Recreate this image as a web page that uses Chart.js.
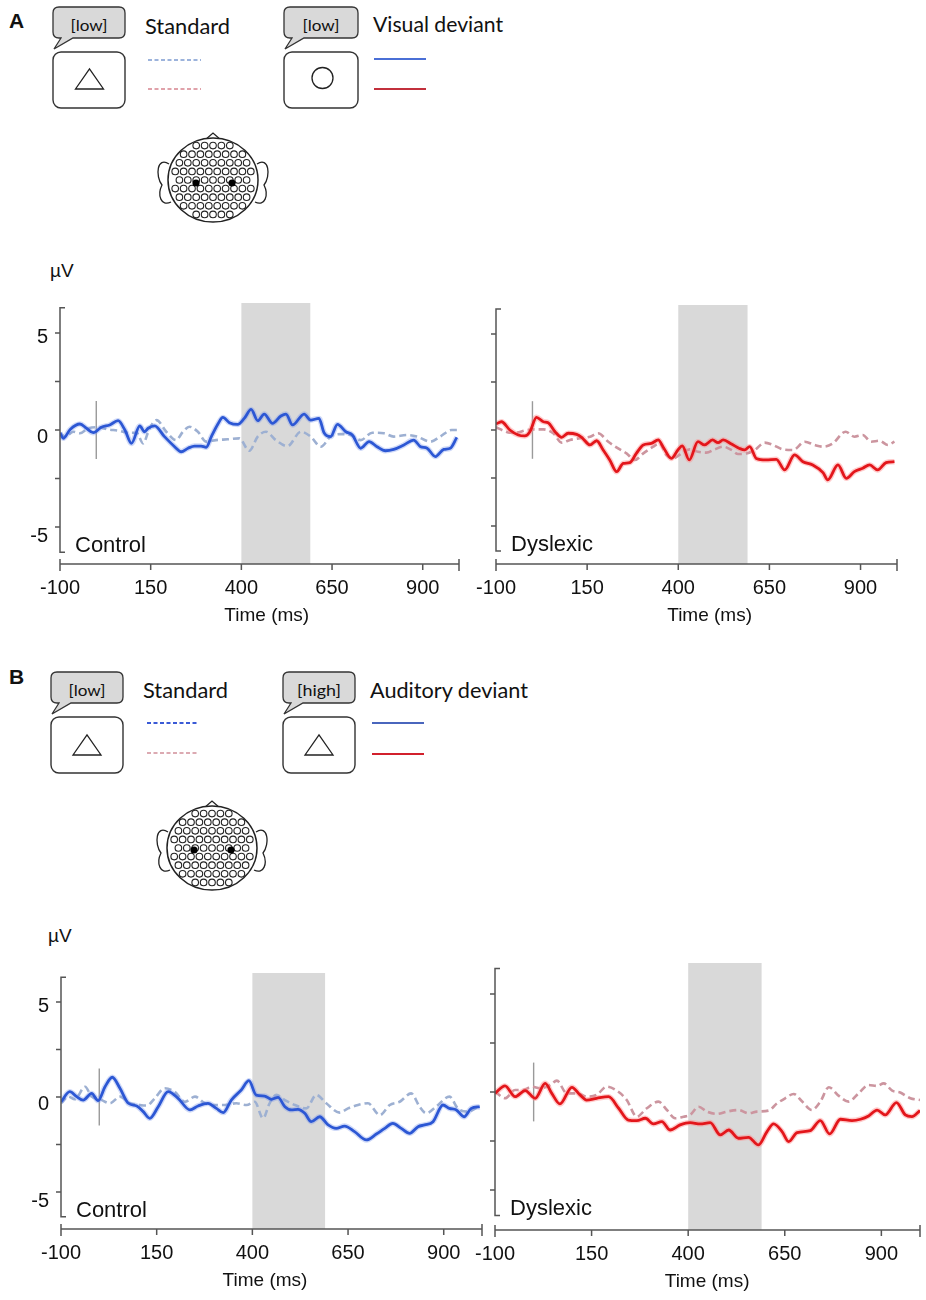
<!DOCTYPE html>
<html>
<head>
<meta charset="utf-8">
<title>ERP waveforms</title>
<script src="https://cdn.jsdelivr.net/npm/chart.js@4.4.1/dist/chart.umd.min.js"></script>
<style>
  body { margin: 0; background: #fff; }
  #page { position: relative; width: 926px; height: 1300px; overflow: hidden; }
  #page canvas { position: absolute; }
  #deco { position: absolute; left: 0; top: 0; }
  #deco text { font-family: Lato, "Open Sans", sans-serif; fill: #111; }
</style>
</head>
<body>
<div id="page">
  <svg id="deco" width="926" height="1300"></svg>
  <canvas id="aCtrl" width="470" height="385" style="left:0;top:255px"></canvas>
  <canvas id="aDys" width="456" height="385" style="left:470px;top:255px"></canvas>
  <canvas id="bCtrl" width="490" height="380" style="left:0;top:920px"></canvas>
  <canvas id="bDys" width="456" height="380" style="left:470px;top:920px"></canvas>
</div>
<script>
// axes
const xTicks = [-100, 150, 400, 650, 900];
const yTicks = [-5, -2.5, 0, 2.5, 5];
const yTickLabels = ["-5", "", "0", "", "5"];
const yAxisEnds = [-6.3, 6.3];
const timeRange = [-100, 1000];
const onsetBar = [1.5, -1.5];
const windowA = [400, 590];
const windowB = [400, 590];

// A, control: visual deviant (solid) and standard (dashed)
const aCtrlDevT = [-100,-91,-72,-45,-27,-8,14,37,60,79,97,120,133,143,161,188,216,234,253,271,289,303,317,335,349,367,390,408,427,445,463,486,509,523,541,573,591,614,628,646,665,688,706,729,752,774,797,820,848,875,894,912,935,958,976,994];
const aCtrlDevV = [-0.15,-0.43,0.03,0.31,0.09,-0.14,0.14,0.26,0.48,0,-0.69,0.21,-0.09,0.09,0.21,-0.34,-0.86,-1.12,-0.94,-0.83,-0.83,-0.89,-0.35,0.3,0.65,0.38,0.29,0.6,1.06,0.48,0.82,0.34,0.72,0.82,0.26,0.82,0.51,0.6,-0.14,-0.34,0.29,-0.09,-0.26,-0.94,-0.6,-0.86,-1.07,-1.0,-0.77,-0.52,-0.86,-0.94,-1.37,-1.0,-0.94,-0.38];
const aCtrlStdT = [-100,-86,-63,-45,-22,5,33,60,88,111,129,147,166,193,220,239,257,280,303,330,362,394,422,445,468,495,527,564,591,619,646,674,701,729,761,793,820,857,884,921,948,980,1000];
const aCtrlStdV = [-0.14,-0.34,-0.09,-0.17,0.09,0.14,0.03,-0.03,-0.14,-0.14,-0.69,0.09,0.51,-0.09,-0.52,-0.09,0.17,-0.09,-0.6,-0.52,-0.48,-0.43,-1.07,-0.34,-0.09,-0.52,-0.83,-0.09,-0.34,-0.86,-0.34,-0.21,-0.26,-0.52,-0.14,-0.17,-0.34,-0.26,-0.34,-0.6,-0.34,0,0];

// A, dyslexic
const aDysDevT = [-100,-85,-62,-39,-21,-7,11,30,43,62,80,98,121,135,158,176,194,212,231,249,267,285,304,326,345,358,381,399,411,430,454,472,494,509,523,546,568,582,596,614,641,669,692,719,742,769,797,810,838,861,883,906,925,947,970,993];
const aDysDevV = [0.31,0.43,0,-0.26,-0.31,-0.09,0.66,0.43,0.38,-0.09,-0.38,-0.17,-0.23,-0.38,-0.78,-0.56,-1.04,-1.56,-2.17,-1.74,-1.7,-1.22,-0.78,-0.7,-0.52,-0.87,-1.48,-1.04,-0.83,-1.56,-0.61,-0.78,-0.52,-0.66,-0.52,-0.73,-0.96,-1.04,-0.87,-1.48,-1.56,-1.53,-2.08,-1.3,-1.65,-1.82,-2.22,-2.6,-1.82,-2.52,-2.17,-1.99,-1.82,-2.08,-1.7,-1.65];
const aDysStdT = [-100,-80,-62,-43,-21,2,30,57,80,103,130,158,180,208,235,258,281,304,331,349,367,386,409,431,454,477,500,523,546,564,587,610,637,660,687,715,747,774,797,824,859,883,906,929,952,975,993];
const aDysStdV = [0.14,-0.03,-0.14,-0.14,-0.03,0.03,0.03,-0.17,-0.66,-0.52,-0.43,-0.35,-0.17,-0.61,-0.96,-1.22,-1.56,-1.22,-0.87,-0.7,-1.3,-1.48,-1.22,-1.01,-1.13,-1.18,-1.01,-0.87,-1.04,-1.25,-1.22,-1.04,-0.66,-0.78,-1.01,-1.04,-0.61,-0.78,-0.87,-0.7,-0.09,-0.35,-0.26,-0.61,-0.56,-0.78,-0.61];

// B, control: auditory deviant (solid) and standard (dashed)
const bCtrlDevT = [-100,-77,-59,-42,-20,-3,15,34,54,76,98,115,132,154,180,206,237,258,284,306,324,345,371,391,410,432,450,467,485,502,519,537,554,576,598,619,641,667,698,724,746,767,789,811,833,850,872,898,915,933,953,972,994];
const bCtrlDevV = [-0.25,0.28,0.02,-0.16,0.19,-0.19,0.54,1.04,0.46,-0.33,-0.47,-0.77,-1.12,-0.51,0.28,-0.07,-0.68,-0.47,-0.33,-0.6,-0.82,-0.16,0.37,0.86,0.1,0.05,-0.12,-0.02,-0.51,-0.68,-0.65,-0.86,-1.3,-1.04,-1.47,-1.65,-1.53,-1.82,-2.26,-1.95,-1.65,-1.39,-1.65,-1.91,-1.56,-1.47,-1.3,-0.42,-0.6,-0.68,-1.04,-0.6,-0.51];
const bCtrlStdT = [-100,-81,-64,-37,-20,2,28,54,80,106,124,145,171,197,224,250,276,302,328,358,385,406,428,445,463,485,511,541,567,593,628,650,676,702,733,759,785,815,837,854,880,915,937,963,994];
const bCtrlStdV = [-0.33,0.02,-0.12,0.54,0.02,-0.12,-0.33,0.02,-0.33,-0.42,-0.45,-0.07,0.46,0.28,-0.25,0.02,-0.33,-0.42,-0.42,-0.33,-0.42,-0.25,-1.12,-0.33,0.11,-0.16,-0.42,-0.6,0.11,-0.33,-0.82,-0.6,-0.42,-0.33,-0.95,-0.42,-0.25,0.19,-0.51,-0.86,-0.51,0.02,-0.6,-0.77,-0.47];

// B, dyslexic
const bDysDevT = [-100,-74,-48,-22,4,30,47,68,99,120,137,163,194,220,245,267,289,310,332,353,379,405,431,457,483,505,530,556,582,604,621,643,660,682,716,742,766,794,824,846,867,889,910,939,962,979,1000];
const bDysDevV = [-0.07,0.31,-0.24,0.07,-0.32,0.44,-0.07,-0.61,0.24,-0.15,-0.41,-0.32,-0.24,-0.83,-1.43,-1.46,-1.34,-1.63,-1.51,-1.94,-1.68,-1.56,-1.63,-1.56,-2.19,-1.94,-2.36,-2.31,-2.7,-2.02,-1.63,-2.02,-2.53,-2.07,-1.97,-1.46,-2.14,-1.39,-1.46,-1.39,-1.22,-0.92,-1.17,-0.54,-1.17,-1.26,-0.95];
const bDysStdT = [-100,-74,-48,-27,-5,17,43,60,86,112,138,163,189,215,241,267,293,323,345,366,388,405,427,448,474,500,530,556,578,608,630,651,673,695,720,742,764,790,815,841,867,889,906,928,949,975,1000];
const bDysStdV = [0.02,-0.32,0.1,0.1,0.27,0.19,0.36,0.58,-0.07,-0.07,-0.24,-0.15,0.27,0.07,-0.41,-1.26,-0.83,-0.49,-0.92,-1.34,-1.26,-1.17,-0.75,-1.0,-1.12,-1.0,-0.92,-1.09,-1.0,-0.95,-0.58,-0.32,-0.1,-0.49,-0.92,-0.49,0.24,-0.2,-0.49,-0.07,0.36,0.31,0.44,0.07,-0.03,-0.32,-0.41];

const tickFont = '20px "Liberation Sans", Arial, sans-serif';

function pts(t, v) {
  return t.map((x, i) => ({ x: x, y: v[i] }));
}

// grey analysis window, detached axes and their labels
const erpAxes = {
  id: "erpAxes",
  beforeDatasetsDraw(chart, args, o) {
    const { ctx, chartArea: a, scales: { x } } = chart;
    const x0 = x.getPixelForValue(o.window[0]);
    const x1 = x.getPixelForValue(o.window[1]);
    ctx.save();
    ctx.fillStyle = "#d9d9d9";
    ctx.fillRect(x0, a.top, x1 - x0, a.bottom - a.top);
    ctx.restore();
  },
  afterDraw(chart, args, o) {
    const { ctx, chartArea: a, scales: { x, y } } = chart;
    const ax = a.left, ay = a.bottom;
    const yTop = y.getPixelForValue(yAxisEnds[1]);
    const yBot = y.getPixelForValue(yAxisEnds[0]);
    const xl = x.getPixelForValue(timeRange[0]);
    const xr = x.getPixelForValue(timeRange[1]);

    ctx.save();
    ctx.strokeStyle = "#555";
    ctx.lineWidth = 1.5;
    ctx.beginPath();
    ctx.moveTo(ax + 5, yTop);
    ctx.lineTo(ax, yTop);
    ctx.lineTo(ax, yBot);
    ctx.lineTo(ax + 5, yBot);
    yTicks.forEach(v => {
      const p = y.getPixelForValue(v);
      ctx.moveTo(ax - 5, p);
      ctx.lineTo(ax, p);
    });
    ctx.moveTo(xl, ay);
    ctx.lineTo(xr, ay);
    ctx.moveTo(xl, ay - 5);
    ctx.lineTo(xl, ay + 7);
    ctx.moveTo(xr, ay - 5);
    ctx.lineTo(xr, ay + 7);
    xTicks.forEach(v => {
      const p = x.getPixelForValue(v);
      ctx.moveTo(p, ay);
      ctx.lineTo(p, ay + 6);
    });
    ctx.stroke();

    ctx.fillStyle = "#111";
    ctx.font = tickFont;
    ctx.textAlign = "center";
    ctx.textBaseline = "middle";
    xTicks.forEach(v => ctx.fillText(String(v), x.getPixelForValue(v), ay + 24));
    ctx.font = '19px "Liberation Sans", Arial, sans-serif';
    ctx.fillText("Time (ms)", x.getPixelForValue(o.titleAt), ay + 52);

    if (o.yLabels) {
      ctx.font = tickFont;
      ctx.textAlign = "right";
      yTicks.forEach((v, i) => {
        if (yTickLabels[i]) ctx.fillText(yTickLabels[i], ax - 12, y.getPixelForValue(v) + 7 - v * 0.5);
      });
    }

    ctx.font = '22px "Liberation Sans", Arial, sans-serif';
    ctx.textAlign = "left";
    ctx.textBaseline = "alphabetic";
    ctx.fillText(o.group, ax + 15, yBot);
    ctx.restore();
  }
};

function erpChart(id, p) {
  const datasets = [
    { data: pts(p.devT, p.devV), borderColor: p.devColor, borderWidth: 2.8 },
    { data: pts(p.devT, p.devV), borderColor: p.haloColor, borderWidth: 5.5 },
    { data: pts(p.stdT, p.stdV), borderColor: p.stdColor, borderWidth: 2.6, borderDash: [7, 4] },
    { data: [{ x: 0, y: onsetBar[0] }, { x: 0, y: onsetBar[1] }], borderColor: "#9a9a9a", borderWidth: 1.4 }
  ];
  return new Chart(document.getElementById(id), {
    type: "line",
    data: { datasets: datasets },
    options: {
      responsive: false,
      animation: false,
      layout: { padding: p.padding },
      elements: {
        point: { radius: 0 },
        line: { cubicInterpolationMode: "monotone", fill: false }
      },
      scales: {
        x: { type: "linear", min: timeRange[0], max: timeRange[1], display: false },
        y: { min: p.yMin, max: p.yMax, display: false }
      },
      plugins: {
        legend: { display: false },
        tooltip: { enabled: false },
        erpAxes: { window: p.window, titleAt: p.titleAt, yLabels: p.yLabels, group: p.group }
      }
    },
    plugins: [erpAxes]
  });
}

const blueDev = "#2c57d4", blueHalo = "rgba(120,150,235,0.35)", blueStd = "#9db0d2";
const redDev = "#e3161b", redHalo = "rgba(255,140,140,0.45)", pinkStd = "#cc959f";

erpChart("aCtrl", {
  devT: aCtrlDevT, devV: aCtrlDevV, stdT: aCtrlStdT, stdV: aCtrlStdV,
  devColor: blueDev, haloColor: blueHalo, stdColor: blueStd,
  padding: { left: 60, right: 11, top: 48, bottom: 76 },
  yMin: -6.91, yMax: 6.55, window: windowA, titleAt: 470, yLabels: true, group: "Control"
});
erpChart("aDys", {
  devT: aDysDevT, devV: aDysDevV, stdT: aDysStdT, stdV: aDysStdV,
  devColor: redDev, haloColor: redHalo, stdColor: pinkStd,
  padding: { left: 26, right: 29, top: 50, bottom: 76 },
  yMin: -6.98, yMax: 6.51, window: windowA, titleAt: 486, yLabels: false, group: "Dyslexic"
});
erpChart("bCtrl", {
  devT: bCtrlDevT, devV: bCtrlDevV, stdT: bCtrlStdT, stdV: bCtrlStdV,
  devColor: blueDev, haloColor: blueHalo, stdColor: blueStd,
  padding: { left: 61, right: 8, top: 53, bottom: 71 },
  yMin: -6.95, yMax: 6.53, window: windowB, titleAt: 433, yLabels: true, group: "Control"
});
erpChart("bDys", {
  devT: bDysDevT, devV: bDysDevV, stdT: bDysStdT, stdV: bDysStdV,
  devColor: redDev, haloColor: redHalo, stdColor: pinkStd,
  padding: { left: 25, right: 6, top: 43, bottom: 70 },
  yMin: -7.04, yMax: 6.58, window: windowB, titleAt: 449, yLabels: false, group: "Dyslexic"
});

// ---- condition legends and electrode maps (SVG) ----
const svg = document.getElementById("deco");
const NS = "http://www.w3.org/2000/svg";

function el(tag, attrs, text) {
  const e = document.createElementNS(NS, tag);
  for (const k in attrs) e.setAttribute(k, attrs[k]);
  if (text) e.textContent = text;
  svg.appendChild(e);
  return e;
}

function bubble(x0, y0, w, label, textLen) {
  const h = 31, r = 6;
  el("path", {
    d: `M${x0 + r},${y0} H${x0 + w - r} Q${x0 + w},${y0} ${x0 + w},${y0 + r} V${y0 + h - r} ` +
       `Q${x0 + w},${y0 + h} ${x0 + w - r},${y0 + h} H${x0 + 20} L${x0 + 1},${y0 + h + 11} ` +
       `L${x0 + 8},${y0 + h} H${x0 + r} Q${x0},${y0 + h} ${x0},${y0 + h - r} V${y0 + r} Q${x0},${y0} ${x0 + r},${y0} Z`,
    fill: "#d9d9d9", stroke: "#333", "stroke-width": 1.3
  });
  el("text", { x: x0 + w / 2, y: y0 + 24, "text-anchor": "middle", "font-size": 16,
    textLength: textLen, lengthAdjust: "spacingAndGlyphs" }, label);
  el("rect", { x: x0, y: y0 + 45, width: w, height: 56, rx: 8, fill: "#fff", stroke: "#333", "stroke-width": 1.4 });
}

function triangle(cx, baseY) {
  el("path", { d: `M${cx - 14},${baseY} L${cx + 14},${baseY} L${cx},${baseY - 20} Z`,
    fill: "none", stroke: "#222", "stroke-width": 1.3 });
}

function legendLine(x1, x2, yy, color, dashed) {
  const a = { x1: x1, x2: x2, y1: yy, y2: yy, stroke: color, "stroke-width": dashed ? 1.8 : 2.2 };
  if (dashed) a["stroke-dasharray"] = "4 2.5";
  el("line", a);
}

function label(x, y, txt, len) {
  el("text", { x: x, y: y, "font-size": 21, textLength: len, lengthAdjust: "spacingAndGlyphs" }, txt);
}

function head(cx, cy, dots) {
  // ears and nose
  el("path", { d: `M${cx - 44},${cy - 16} C${cx - 56},${cy - 24} ${cx - 58},${cy - 4} ${cx - 51},${cy + 5} C${cx - 56},${cy + 15} ${cx - 52},${cy + 27} ${cx - 42},${cy + 22}`,
    fill: "#fff", stroke: "#222", "stroke-width": 1.3 });
  el("path", { d: `M${cx + 44},${cy - 16} C${cx + 56},${cy - 24} ${cx + 58},${cy - 4} ${cx + 51},${cy + 5} C${cx + 56},${cy + 15} ${cx + 52},${cy + 27} ${cx + 42},${cy + 22}`,
    fill: "#fff", stroke: "#222", "stroke-width": 1.3 });
  el("path", { d: `M${cx - 8},${cy - 40} L${cx},${cy - 47} L${cx + 8},${cy - 40}`,
    fill: "#fff", stroke: "#222", "stroke-width": 1.3 });
  el("ellipse", { cx: cx, cy: cy, rx: 45, ry: 42, fill: "#fff", stroke: "#222", "stroke-width": 1.5 });
  for (let r = -4; r <= 4; r++) {
    for (let c = -5; c <= 5; c++) {
      const ex = cx + c * 8.4 + (r % 2 ? 4.2 : 0);
      const ey = cy + r * 8.6;
      if (((ex - cx) / 41) ** 2 + ((ey - cy) / 38) ** 2 <= 1) {
        el("circle", { cx: ex, cy: ey, r: 3.3, fill: "#fff", stroke: "#222", "stroke-width": 1.1 });
      }
    }
  }
  dots.forEach(d => el("circle", { cx: d[0], cy: d[1], r: 3.6, fill: "#000" }));
}

// panel A legend
el("text", { x: 9, y: 28, "font-size": 21, "font-weight": "bold",
  style: "font-family:'Liberation Sans',Arial,sans-serif" }, "A");
bubble(53, 7, 72, "[low]", 37);
triangle(89.5, 89);
label(145, 34, "Standard", 85);
legendLine(148, 201, 60, "#9cb3dc", true);
legendLine(148, 201, 89, "#e0a2aa", true);
bubble(284, 7, 74, "[low]", 37);
el("circle", { cx: 322.5, cy: 78, r: 10.5, fill: "none", stroke: "#222", "stroke-width": 1.3 });
label(373, 32, "Visual deviant", 130);
legendLine(374, 426, 59, "#4a6fd6");
legendLine(374, 426, 89, "#c2303c");
head(213, 180, [[196, 183], [232, 183]]);
el("text", { x: 50, y: 277, "font-size": 19, style: "font-family:'Liberation Sans',Arial,sans-serif" }, "µV");

// panel B legend
el("text", { x: 9, y: 684, "font-size": 21, "font-weight": "bold",
  style: "font-family:'Liberation Sans',Arial,sans-serif" }, "B");
bubble(51, 672, 72, "[low]", 37);
triangle(87, 755);
label(143, 698, "Standard", 85);
legendLine(147, 199, 723, "#3a5ad6", true);
legendLine(147, 199, 753, "#dcaab2", true);
bubble(283, 672, 72, "[high]", 44);
triangle(319, 755);
label(370, 698, "Auditory deviant", 158);
legendLine(372, 424, 723, "#4a66bd");
legendLine(372, 424, 754, "#d2202c");
head(212, 848, [[194, 850], [231, 850]]);
el("text", { x: 48, y: 942, "font-size": 19, style: "font-family:'Liberation Sans',Arial,sans-serif" }, "µV");
</script>
</body>
</html>
